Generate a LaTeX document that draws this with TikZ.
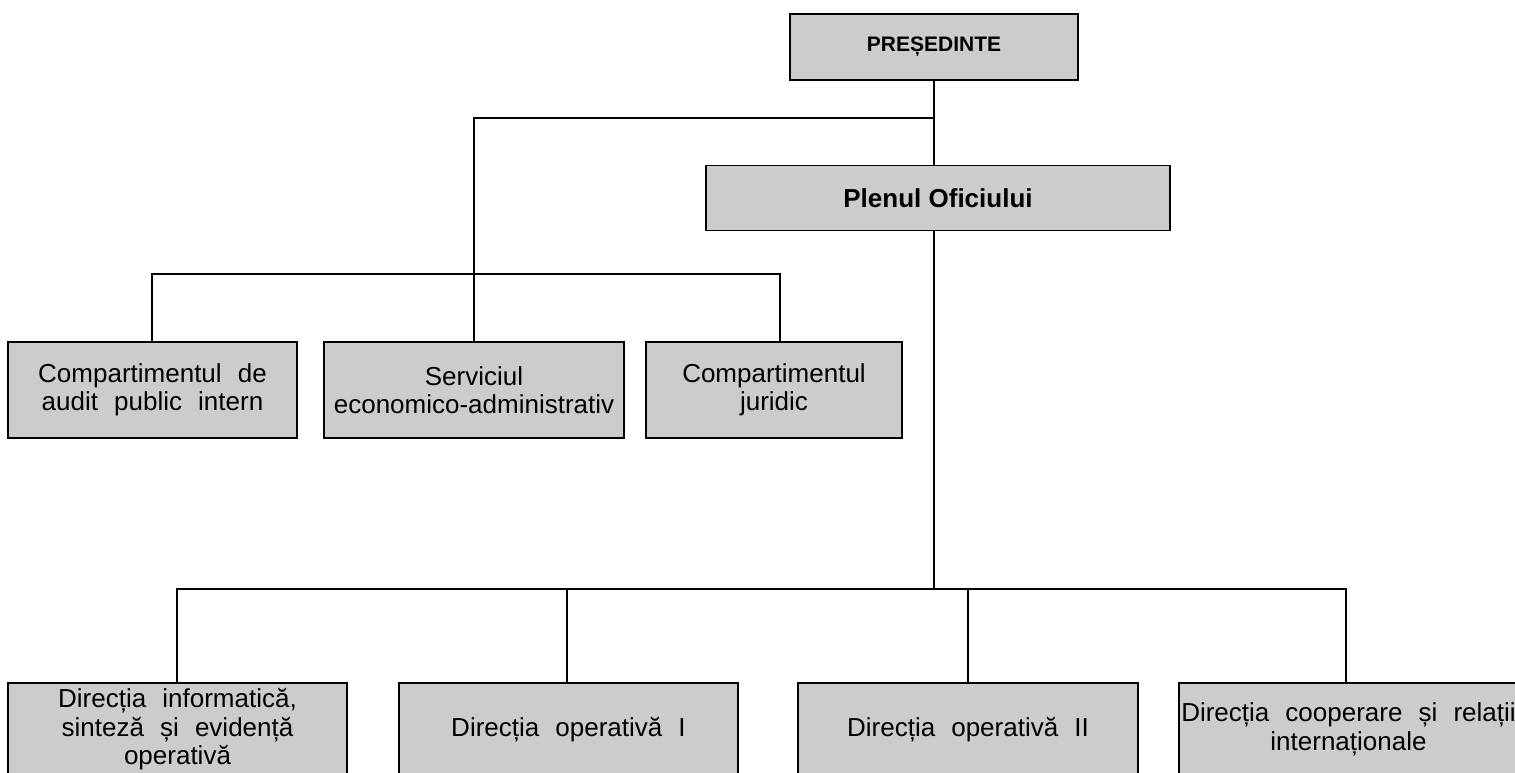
\documentclass[tikz,border=0pt]{standalone}
\usepackage{fontspec}
\setmainfont{Liberation Sans}
\definecolor{boxgray}{RGB}{204,204,204}
\begin{document}
\begin{tikzpicture}[x=1pt,y=-1pt,
  box/.style={draw=black,line width=1.9pt,fill=boxgray,inner sep=0pt,align=center,
    font={\fontsize{26}{28.5}\selectfont\spaceskip=0.62em plus 0.1em minus 0.05em}},
  link/.style={line width=1.9pt,line cap=rect}]
\useasboundingbox (0,0) rectangle (1515,772);
\clip (0,0) rectangle (1515,772);

\node[box,minimum width=288pt,minimum height=66pt,font=\bfseries\fontsize{21}{24}\selectfont] (pres) at (934,47) {PREȘEDINTE};
\node[box,minimum width=464pt,minimum height=65pt,font=\bfseries\fontsize{26}{30}\selectfont] (plen) at (938,198) {Plenul Oficiului};

\node[box,minimum width=289pt,minimum height=96pt] (c1) at (152.5,390) {Compartimentul de\\audit public intern};
\node[box,minimum width=300pt,minimum height=96pt] (c2) at (474,390) {Serviciul\\economico-administrativ};
\node[box,minimum width=256pt,minimum height=96pt] (c3) at (774,390) {Compartimentul\\juridic};

\node[box,minimum width=339pt,minimum height=93pt] (d1) at (177.5,729.5) {Direcția informatică,\\sinteză și evidență\\operativă};
\node[box,minimum width=339pt,minimum height=93pt] (d2) at (568.5,729.5) {Direcția operativă I};
\node[box,minimum width=340pt,minimum height=93pt] (d3) at (968,729.5) {Direcția operativă II};
\node[box,minimum width=339pt,minimum height=93pt] (d4) at (1348.5,729.5) {Direcția cooperare și relații\\internaționale};

\coordinate (sp1) at (934,118);
\coordinate (lb) at (474,118);
\coordinate (tl) at (152,274);
\coordinate (tm) at (474,274);
\coordinate (tr) at (780,274);
\coordinate (bj) at (934,589);
\coordinate (b1) at (177,589);
\coordinate (b2) at (567,589);
\coordinate (b3) at (968,589);
\coordinate (b4) at (1346,589);

\draw[link] (pres.south) -- (sp1) -- (sp1 |- plen.north);
\draw[link] (sp1) -- (lb) -- (tm);
\draw[link] (tl) -- (tr);
\draw[link] (tl) -- (tl |- c1.north);
\draw[link] (tm) -- (tm |- c2.north);
\draw[link] (tr) -- (tr |- c3.north);
\draw[link] (sp1 |- plen.south) -- (bj);
\draw[link] (b1) -- (b4);
\draw[link] (b1) -- (b1 |- d1.north);
\draw[link] (b2) -- (b2 |- d2.north);
\draw[link] (b3) -- (b3 |- d3.north);
\draw[link] (b4) -- (b4 |- d4.north);
\end{tikzpicture}
\end{document}
